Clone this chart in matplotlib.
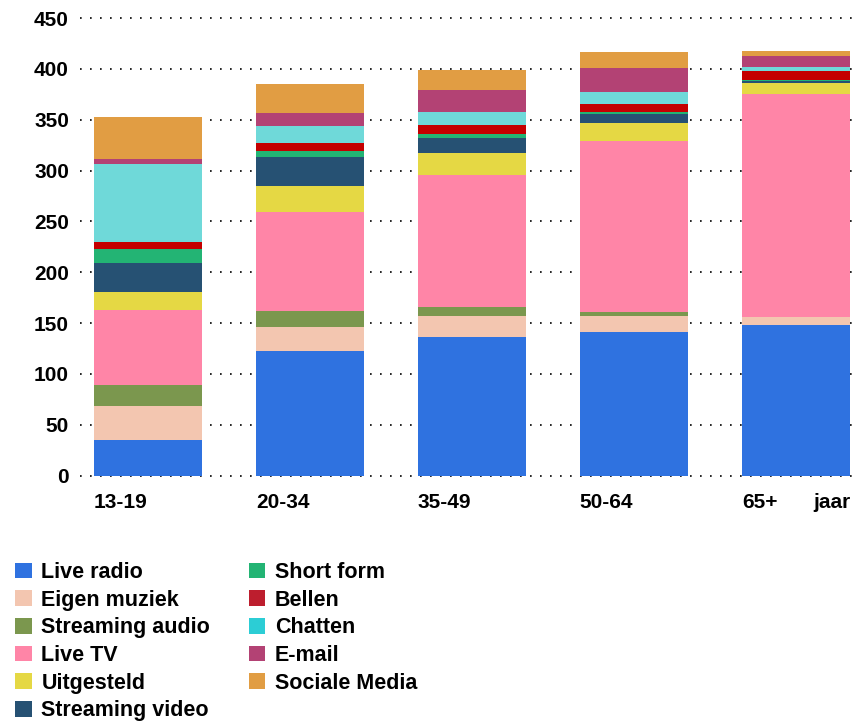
import matplotlib
matplotlib.use("Agg")
import matplotlib.pyplot as plt
from matplotlib.patches import Patch
import numpy as np

plt.rcParams['font.family'] = ['Liberation Sans', 'DejaVu Sans']
plt.rcParams['font.weight'] = 'bold'

groups = ["13-19", "20-34", "35-49", "50-64", "65+"]
series = ["Live radio", "Eigen muziek", "Streaming audio", "Live TV", "Uitgesteld",
          "Streaming video", "Short form", "Bellen", "Chatten", "E-mail", "Sociale Media"]

live_radio      = [35.1, 122.6, 136.3, 141.3, 148.1]
eigen_muziek    = [33.4, 23.6, 20.7, 15.7, 7.9]
streaming_audio = [20.3, 15.7, 8.8, 3.9, 0.3]
live_tv         = [74.1, 97.3, 129.8, 168.1, 219.3]
uitgesteld      = [17.7, 25.6, 21.6, 17.7, 10.8]
streaming_video = [28.5, 28.5, 14.8, 8.9, 2.0]
short_form      = [13.8, 5.9, 3.9, 2.0, 1.0]
bellen          = [6.8, 7.9, 8.9, 7.8, 8.9]
chatten         = [76.7, 16.7, 12.8, 11.8, 3.9]
email           = [4.9, 12.8, 21.6, 23.6, 10.8]
sociale_media   = [41.7, 28.5, 19.6, 15.7, 4.9]

values = [live_radio, eigen_muziek, streaming_audio, live_tv, uitgesteld,
          streaming_video, short_form, bellen, chatten, email, sociale_media]

bar_colors = ["#2f72e0", "#f3c6b0", "#7b974e", "#ff85a7", "#e5d844", "#265173",
              "#23b474", "#c40000", "#6fd9d9", "#b34274", "#e19d43"]
legend_colors = ["#2f72e0", "#f3c6b0", "#7b974e", "#ff85a7", "#e5d844", "#265173",
                 "#23b474", "#bd1e2e", "#2ccdd5", "#b34274", "#e19d43"]

yticks = [0, 50, 100, 150, 200, 250, 300, 350, 400, 450]

fig = plt.figure(figsize=(8.59, 7.22), dpi=100)
ax = fig.add_axes([80/859, 1-475.7/722, (852-80)/859, (475.7-18)/722])

x = np.arange(len(groups))
bottom = np.zeros(len(groups))
for vals, col in zip(values, bar_colors):
    ax.bar(x, vals, width=0.67, bottom=bottom, color=col, zorder=3, linewidth=0)
    bottom += np.array(vals)

ax.set_ylim(0, 450)
ax.set_xlim(-0.42, 4.345)
ax.set_yticks(yticks)
ax.set_yticklabels([str(t) for t in yticks], fontsize=15, fontweight='bold')
ax.tick_params(axis='y', length=0, pad=8)
ax.set_xticks([])
for s in ax.spines.values():
    s.set_visible(False)
for t in yticks:
    ax.axhline(t, color='black', linewidth=1.2, linestyle=(0, (1, 5)), zorder=1, clip_on=False)

for i, g in enumerate(groups):
    ax.text(i - 0.335, -0.058, g, transform=ax.get_xaxis_transform(), ha='left', va='center',
            fontsize=15, fontweight='bold')
ax.text(4.335, -0.058, "jaar", transform=ax.get_xaxis_transform(), ha='right', va='center',
        fontsize=15, fontweight='bold')

handles = [Patch(facecolor=c, edgecolor='none') for c in legend_colors]
fig.legend(handles, series, loc='upper left', bbox_to_anchor=(0.018, 1-562/722), ncol=2,
           frameon=False, prop={'weight': 'bold', 'size': 15.5},
           handlelength=0.75, handleheight=0.75, handletextpad=0.45,
           labelspacing=0.31, columnspacing=1.8, borderaxespad=0, borderpad=0)

fig.savefig("out.png", dpi=100)
